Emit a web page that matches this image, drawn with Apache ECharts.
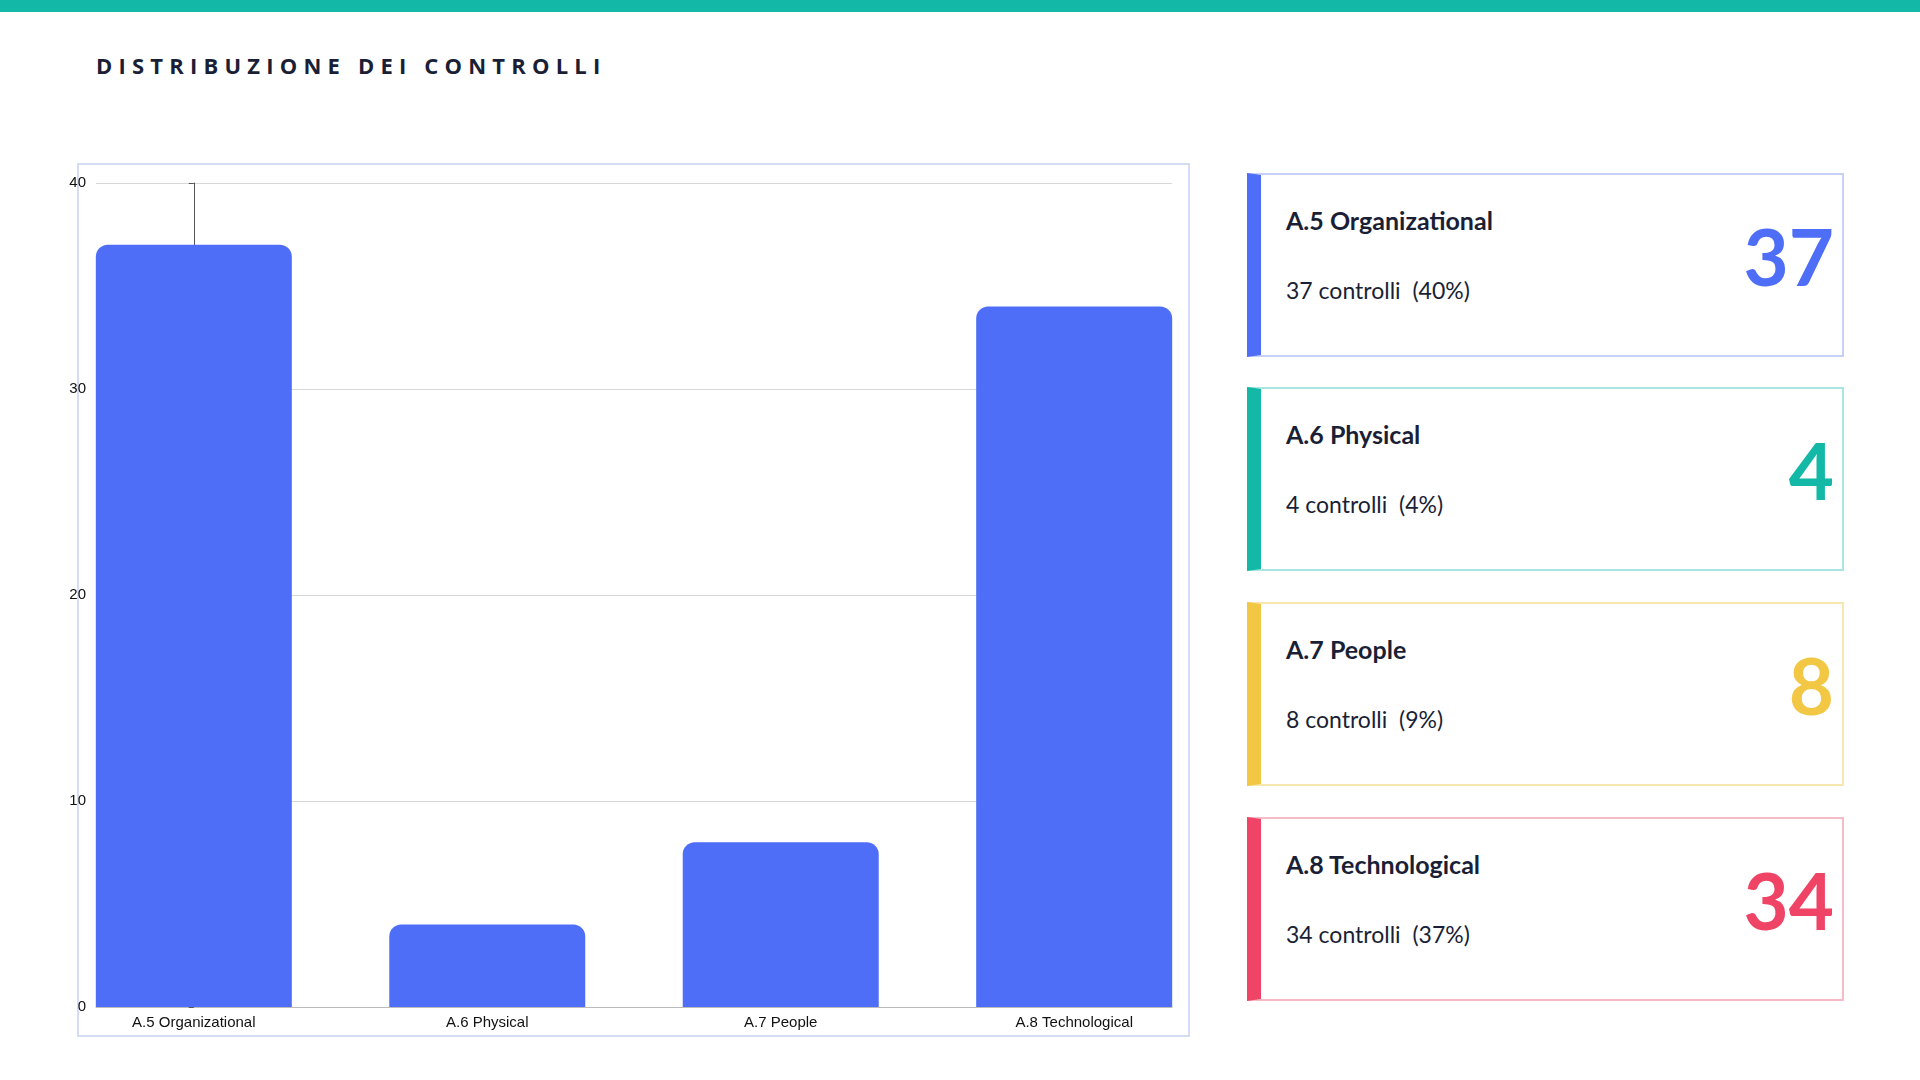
<!DOCTYPE html>
<html>
<head>
<meta charset="utf-8">
<script src="https://cdn.jsdelivr.net/npm/echarts@6/dist/echarts.min.js"></script>
<style>
  body { margin: 0; width: 1920px; height: 1080px; background: #fff; font-family: Lato, "Open Sans", sans-serif; position: relative; overflow: hidden; }
  #topbar { position: absolute; left: 0; top: 0; width: 1920px; height: 12px; background: #14b8a6; }
  #title { position: absolute; left: 96px; top: 50px; font-family: "Open Sans", sans-serif; font-size: 22px; font-weight: bold; letter-spacing: 6.2px; color: #1a1f36; }
  #box { position: absolute; left: 77px; top: 163px; width: 1113px; height: 874px; border: 2px solid #d6dbf6; box-sizing: border-box; }
  #chart { position: absolute; left: -40px; top: 0; width: 1149px; height: 870px; }
  .card { position: absolute; left: 1247px; width: 597px; height: 184px; box-sizing: border-box; border: 2px solid; border-left-width: 14px; }
  .card .name { position: absolute; left: 25px; top: 30px; font-size: 25px; font-weight: bold; color: #1a1f36; }
  .card .sub { position: absolute; left: 25px; top: 101px; font-size: 23px; color: #1a1f36; white-space: pre; }
  .card .big { position: absolute; right: 8px; top: 42px; font-size: 78px; font-weight: bold; line-height: 1; }
</style>
</head>
<body>
<div id="topbar"></div>
<div id="title">DISTRIBUZIONE DEI CONTROLLI</div>
<div id="box"><div id="chart"></div></div>
<div id="cards"></div>
<script>
// Dati
var categories = ['A.5 Organizational', 'A.6 Physical', 'A.7 People', 'A.8 Technological'];
var values = [37, 4, 8, 34];
var percents = [40, 4, 9, 37];
var cardColors = ['#4f6ef7', '#14b8a6', '#f2c744', '#ef4465'];
var cardBorders = ['#c9d0f7', '#a8e6df', '#f8e6b0', '#f5bcc8'];
var cardTops = [173, 387, 602, 817];

// Schede laterali
var cards = document.getElementById('cards');
categories.forEach(function (c, i) {
    var d = document.createElement('div');
    d.className = 'card';
    d.style.top = cardTops[i] + 'px';
    d.style.borderColor = cardBorders[i];
    d.style.borderLeftColor = cardColors[i];
    d.innerHTML = '<div class="name">' + c + '</div>' +
        '<div class="sub">' + values[i] + ' controlli  (' + percents[i] + '%)</div>' +
        '<div class="big" style="color:' + cardColors[i] + '">' + values[i] + '</div>';
    cards.appendChild(d);
});

// Grafico: asse x numerico perché le barre toccano i bordi dell'area
var option = {
    animation: false,
    grid: { left: 57, right: 16, top: 18, bottom: 28, containLabel: false },
    xAxis: {
        type: 'value',
        min: -1 / 3, max: 3 + 1 / 3,
        splitLine: { show: false },
        axisLine: { show: true, onZero: false, lineStyle: { color: '#bbb' } },
        axisTick: { show: false },
        axisLabel: {
            customValues: [0, 1, 2, 3],
            formatter: function (v) { return categories[Math.round(v)]; },
            color: '#111', fontSize: 15, fontFamily: 'Liberation Sans', margin: 8
        }
    },
    yAxis: {
        type: 'value',
        min: 0, max: 40, interval: 10,
        axisLabel: { color: '#111', fontSize: 15, fontFamily: 'Liberation Sans', margin: 10 },
        splitLine: { lineStyle: { color: '#d8d8d8' } }
    },
    series: [{
        type: 'bar',
        data: values.map(function (v, i) { return [i, v]; }),
        barWidth: 196,
        itemStyle: { color: '#4f6ef7', borderRadius: [12, 12, 0, 0] }
    }]
};
var myChart = echarts.init(document.getElementById('chart'));
myChart.setOption(option);
</script>
</body>
</html>
